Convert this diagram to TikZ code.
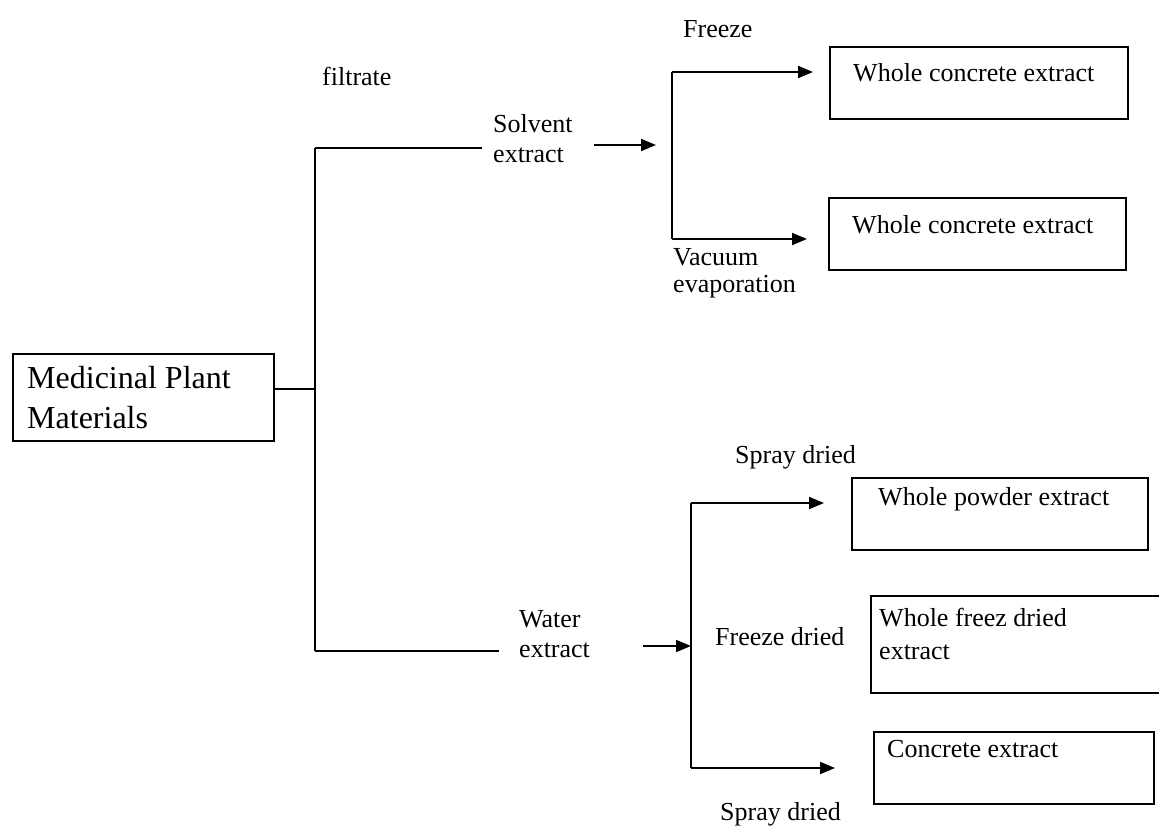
\documentclass[tikz,border=0pt]{standalone}
\usepackage{fontspec}
\setmainfont{Liberation Serif}
\usetikzlibrary{arrows.meta}

\tikzset{
  lbl/.style={font=\fontsize{26}{30}\selectfont, inner sep=0pt, anchor=base west},
  biglbl/.style={font=\fontsize{32}{38}\selectfont, inner sep=0pt, anchor=base west},
  box/.style={draw, line width=1.6pt, anchor=north west, inner sep=0pt},
  ln/.style={line width=2pt},
  arr/.style={ln, -{Triangle[length=15pt,width=12pt]}},
}

\begin{document}
\begin{tikzpicture}[x=1pt,y=-1pt]
\useasboundingbox (0,0) rectangle (1159,831);

% source material
\node[box, minimum width=261pt, minimum height=87pt] (mpm) at (12,353) {};
\node[biglbl] (mpm1) at (27,388) {Medicinal Plant};
\node[biglbl] (mpm2) at (27,428) {Materials};

% main split
\coordinate (trunk) at (315,389);
\coordinate (ttop) at (315,148);
\coordinate (tbot) at (315,651);
\draw[ln] (mpm.east |- trunk) -- (trunk);
\draw[ln] (ttop) -- (tbot);

\node[lbl] (filt) at (322,85) {filtrate};

% solvent branch
\node[lbl] (solv1) at (493,132) {Solvent};
\node[lbl] (solv2) at (493,162) {extract};
\coordinate (sEnd) at (482,148);
\draw[ln] (ttop) -- (sEnd);
\coordinate (sArrA) at (594,145);
\coordinate (sArrB) at (656,145);
\draw[arr] (sArrA) -- (sArrB);

\coordinate (sbTop) at (672,72);
\coordinate (sbBot) at (672,239);
\node[box, minimum width=298pt, minimum height=72pt] (b1) at (829,46) {};
\node[box, minimum width=297pt, minimum height=72pt] (b2) at (828,197) {};
\node[lbl] (b1t) at ([xshift=24pt,yshift=-35pt]b1.north west) {Whole concrete extract};
\node[lbl] (b2t) at ([xshift=24pt,yshift=-36pt]b2.north west) {Whole concrete extract};
\coordinate (sbTopEnd) at (813,72);
\coordinate (sbBotEnd) at (807,239);
\draw[ln] (sbTop) -- (sbBot);
\draw[arr] (sbTop) -- (sbTopEnd);
\draw[arr] (sbBot) -- (sbBotEnd);

\node[lbl] (frz) at (683,37) {Freeze};
\node[lbl] (vac1) at (673,265) {Vacuum};
\node[lbl] (vac2) at (673,292) {evaporation};

% water branch
\node[lbl] (wat1) at (519,627) {Water};
\node[lbl] (wat2) at (519,657) {extract};
\coordinate (wEnd) at (499,651);
\draw[ln] (tbot) -- (wEnd);
\coordinate (wArrA) at (643,646);
\coordinate (wArrB) at (691,646);
\draw[arr] (wArrA) -- (wArrB);

\coordinate (wbTop) at (691,503);
\coordinate (wbBot) at (691,768);
\node[box, minimum width=296pt, minimum height=72pt] (b3) at (851,477) {};
\node[box, minimum width=300pt, minimum height=97pt] (b4) at (870,595) {};
\node[box, minimum width=280pt, minimum height=72pt] (b5) at (873,731) {};
\node[lbl] (b3t) at ([xshift=27pt,yshift=-28pt]b3.north west) {Whole powder extract};
\node[lbl] (b4t1) at ([xshift=9pt,yshift=-31pt]b4.north west) {Whole freez dried};
\node[lbl] (b4t2) at ([xshift=9pt,yshift=-64pt]b4.north west) {extract};
\node[lbl] (b5t) at ([xshift=14pt,yshift=-26pt]b5.north west) {Concrete extract};
\coordinate (wbTopEnd) at (824,503);
\coordinate (wbBotEnd) at (835,768);
\draw[ln] (wbTop) -- (wbBot);
\draw[arr] (wbTop) -- (wbTopEnd);
\draw[arr] (wbBot) -- (wbBotEnd);

\node[lbl] (spr1) at (735,463) {Spray dried};
\node[lbl] (frd) at (715,645) {Freeze dried};
\node[lbl] (spr2) at (720,820) {Spray dried};
\end{tikzpicture}
\end{document}
